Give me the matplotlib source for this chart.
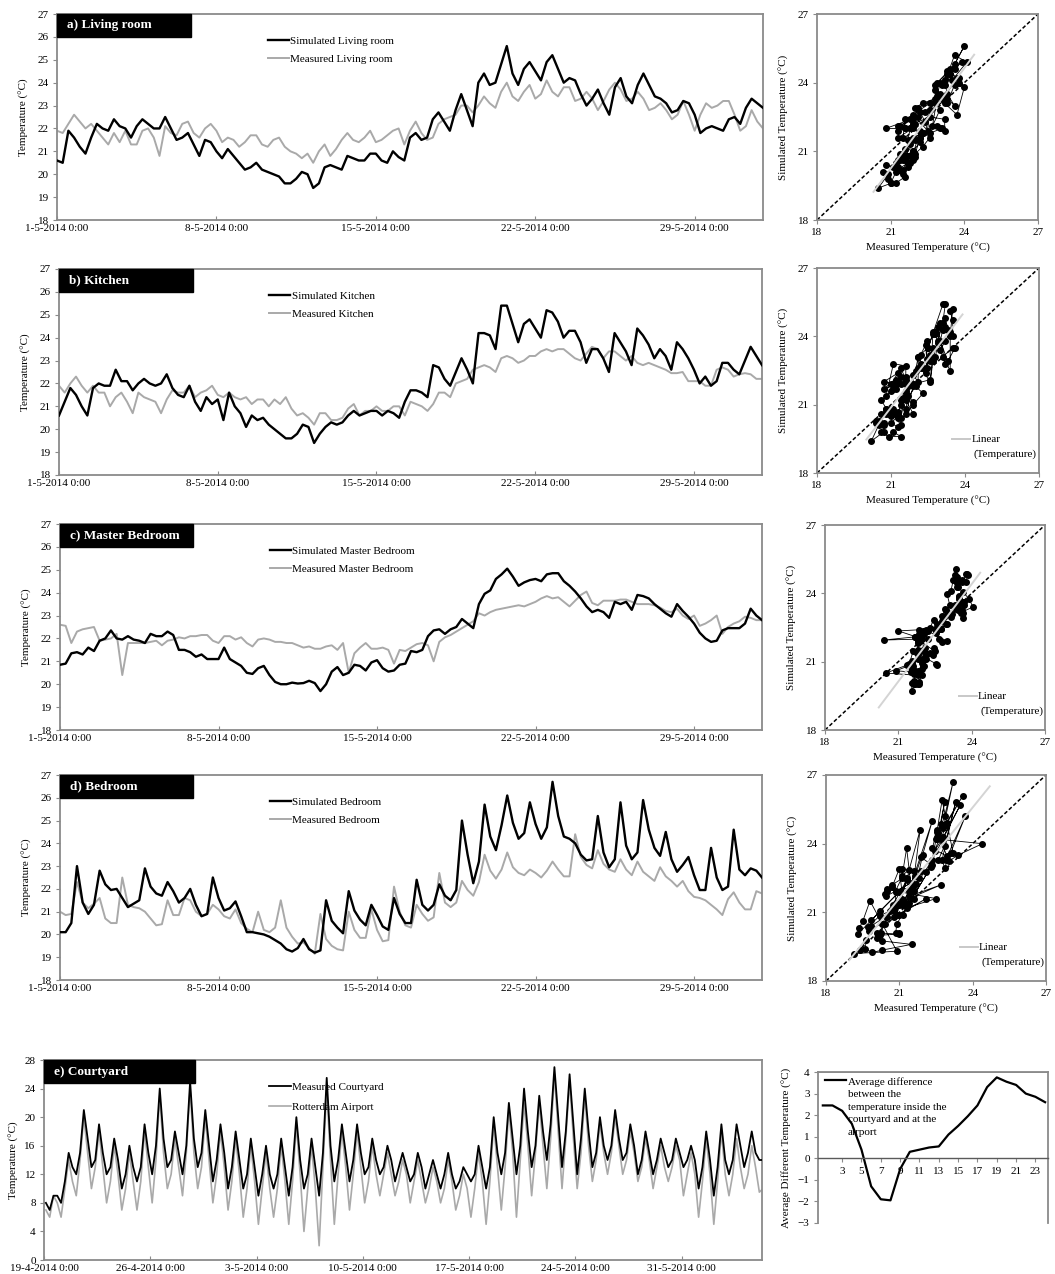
import numpy as np
import matplotlib.pyplot as plt
from matplotlib.patches import Rectangle

plt.rcParams['font.family'] = ['Liberation Serif', 'DejaVu Serif']

# 6-hourly readings (0:00, 6:00, 12:00, 18:00) from 1-5-2014 0:00 to 1-6-2014 0:00
sim_living = [
    20.6, 20.5, 21.9, 21.6, 21.2, 20.9, 21.6, 22.2, 22.0, 21.9, 22.4, 22.1,
    22.0, 21.6, 22.1, 22.4, 22.2, 22.0, 22.0, 22.5, 22.0, 21.5, 21.6, 21.8,
    21.3, 20.8, 21.5, 21.4, 21.0, 20.7, 21.1, 20.8, 20.5, 20.2, 20.3, 20.5,
    20.2, 20.1, 20.0, 19.9, 19.6, 19.6, 19.8, 20.1, 20.0, 19.4, 19.6, 20.3,
    20.4, 20.3, 20.2, 20.8, 20.7, 20.6, 20.6, 20.9, 20.9, 20.6, 20.5, 21.0,
    20.75, 20.6, 21.6, 21.8, 21.5, 21.6, 22.4, 22.7, 22.3, 21.9, 22.8, 23.5,
    22.8, 22.1, 24.0, 24.4, 23.9, 24.0, 24.8, 25.6, 24.4, 23.9, 24.6, 24.9,
    24.5, 24.1, 24.9, 25.2, 24.6, 24.0, 24.2, 24.1, 23.5, 23.0, 23.3, 23.7,
    23.1, 22.6, 23.8, 24.2, 23.4, 23.1, 23.9, 24.4, 23.9, 23.4, 23.3, 23.1,
    22.7, 22.8, 23.2, 23.1, 22.6, 21.8, 22.0, 22.1, 22.0, 21.9, 22.4, 22.5,
    22.2, 22.9, 23.3, 23.1, 22.9]
meas_living = [
    21.9, 21.8, 22.2, 22.6, 22.3, 22.0, 22.2, 21.9, 21.6, 21.3, 21.8, 21.4,
    21.9, 21.3, 21.3, 21.9, 22.0, 21.6, 20.8, 22.1, 21.8, 21.7, 22.2, 22.3,
    21.8, 21.6, 22.0, 22.2, 21.9, 21.4, 21.6, 21.5, 21.2, 21.4, 21.7, 21.7,
    21.3, 21.2, 21.5, 21.6, 21.2, 21.0, 20.9, 20.7, 20.9, 20.5, 21.0, 21.3,
    20.8, 21.1, 21.5, 21.8, 21.5, 21.4, 21.6, 21.9, 21.4, 21.5, 21.7, 21.9,
    22.0, 21.3, 21.9, 22.3, 21.8, 21.5, 21.6, 22.2, 22.4, 22.5, 22.6, 23.0,
    23.0, 22.7, 23.0, 23.4, 23.1, 22.9, 23.6, 24.0, 23.4, 23.2, 23.6, 23.9,
    23.3, 23.5, 24.1, 23.6, 23.4, 23.8, 23.8, 23.2, 23.3, 23.6, 23.3, 22.8,
    23.2, 23.7, 24.0, 23.7, 23.2, 23.3, 23.6, 23.3, 22.8, 22.9, 23.1, 22.8,
    22.4, 22.6, 23.2, 22.6, 21.9, 22.6, 23.1, 22.9, 23.0, 23.2, 23.2, 22.6,
    21.9, 22.1, 22.8, 22.3, 22.0]

sim_kitchen = [
    20.6, 21.2, 21.8, 21.5, 21.0, 20.6, 21.8, 22.0, 21.9, 21.9, 22.6, 22.1,
    22.1, 21.7, 22.0, 22.2, 22.0, 21.9, 22.0, 22.4, 21.8, 21.5, 21.4, 21.9,
    21.2, 20.8, 21.4, 21.1, 21.3, 20.4, 21.6, 21.0, 20.7, 20.1, 20.6, 20.4,
    20.5, 20.2, 20.0, 19.8, 19.6, 19.6, 19.8, 20.2, 20.1, 19.4, 19.8, 20.1,
    20.3, 20.2, 20.3, 20.6, 20.8, 20.6, 20.7, 20.8, 20.8, 20.6, 20.8, 20.7,
    20.5, 21.2, 21.7, 21.7, 21.6, 21.4, 22.8, 22.7, 22.2, 21.9, 22.5, 23.1,
    22.6, 22.0, 24.2, 24.2, 24.1, 23.5, 25.4, 25.4, 24.6, 23.8, 24.6, 24.8,
    24.4, 24.0, 25.2, 25.1, 24.7, 24.0, 24.3, 24.3, 23.8, 22.9, 23.5, 23.5,
    23.1, 22.5, 24.2, 23.8, 23.4, 22.8, 24.4, 24.1, 23.7, 23.1, 23.5, 23.2,
    22.6, 23.8, 23.5, 23.1, 22.6, 22.0, 22.3, 21.9, 22.1, 22.9, 22.9, 22.6,
    22.4, 23.0, 23.6, 23.2, 22.8]
meas_kitchen = [
    21.9, 21.6, 22.0, 22.3, 21.9, 21.6, 21.9, 21.6, 21.6, 21.0, 21.4, 21.6,
    21.2, 20.7, 21.6, 21.4, 21.3, 21.2, 20.7, 21.3, 21.7, 21.6, 21.6, 21.9,
    21.4, 21.6, 21.7, 21.9, 21.5, 21.4, 21.6, 21.4, 21.3, 21.4, 21.1, 21.3,
    21.3, 21.0, 21.3, 21.1, 21.4, 20.9, 20.6, 20.7, 20.5, 20.2, 20.7, 20.7,
    20.4, 20.4, 20.5, 20.9, 21.1, 20.6, 20.8, 20.8, 21.0, 20.8, 20.8, 21.0,
    21.0, 20.6, 21.2, 21.1, 21.0, 20.8, 21.1, 21.6, 21.6, 21.4, 22.0, 22.1,
    22.2, 22.6, 22.7, 22.8, 22.7, 22.5, 23.1, 23.2, 23.1, 22.9, 23.0, 23.2,
    23.2, 23.4, 23.5, 23.4, 23.5, 23.5, 23.3, 23.1, 23.0, 23.3, 23.6, 23.5,
    23.1, 23.4, 23.4, 23.2, 23.0, 23.2, 22.9, 22.8, 22.9, 22.8, 22.7, 22.6,
    22.45, 22.45, 22.5, 22.1, 22.1, 22.1, 21.9, 21.9, 22.6, 22.7, 22.6, 22.3,
    22.4, 22.45, 22.4, 22.2, 22.2]

sim_master = [
    20.85, 20.9, 21.35, 21.4, 21.3, 21.6, 21.45, 21.9, 22.0, 22.35, 22.0, 21.95,
    22.1, 21.95, 21.9, 21.8, 22.2, 22.1, 22.1, 22.3, 22.15, 21.5, 21.5, 21.4,
    21.2, 21.3, 21.1, 21.1, 21.1, 21.6, 21.1, 20.95, 20.8, 20.5, 20.45, 20.7,
    20.8, 20.4, 20.1, 20.0, 20.0, 20.07, 20.03, 20.05, 20.15, 20.05, 19.7, 20.0,
    20.55, 20.75, 20.4, 20.5, 20.85, 20.8, 20.6, 20.95, 21.05, 20.7, 20.55, 20.6,
    20.85, 20.9, 21.45, 21.4, 21.5, 22.1, 22.35, 22.4, 22.2, 22.4, 22.5, 22.85,
    22.65, 22.45, 23.5, 23.95, 24.1, 24.6, 24.8, 25.05, 24.7, 24.3, 24.45, 24.55,
    24.6, 24.5, 24.8, 24.85, 24.85, 24.5, 24.3, 24.05, 23.75, 23.4, 23.15, 23.25,
    23.15, 22.9, 23.6, 23.5, 23.6, 23.25, 23.9, 23.85, 23.75, 23.5, 23.3, 23.1,
    22.95, 23.5, 23.2, 22.95, 22.65, 22.25, 22.0, 21.85, 21.9, 22.35, 22.45, 22.45,
    22.45, 22.65, 23.3, 23.0, 22.8]
meas_master = [
    22.6, 22.55, 21.8, 22.3, 22.4, 22.45, 22.5, 21.9, 21.95, 22.0, 22.2, 20.4,
    21.8, 21.8, 21.8, 21.8, 21.85, 21.9, 21.7, 21.9, 21.95, 22.05, 22.0, 22.1,
    22.1, 22.15, 22.15, 21.9, 21.8, 22.1, 22.1, 21.95, 22.05, 21.8, 21.65, 21.95,
    22.0, 21.95, 21.85, 21.85, 21.8, 21.8, 21.7, 21.6, 21.65, 21.55, 21.55, 21.65,
    21.7, 21.5, 21.8, 20.5, 21.35, 21.6, 21.8, 21.55, 21.55, 21.6, 21.5, 20.9,
    21.5, 21.45, 21.6, 21.75, 21.8, 21.7, 21.0, 21.85, 22.05, 22.15, 22.3, 22.45,
    22.6, 22.75, 23.1, 23.0, 23.15, 23.25, 23.3, 23.35, 23.4, 23.45, 23.4, 23.5,
    23.6, 23.75, 23.85, 23.75, 23.8, 23.6, 23.4, 23.65, 23.9, 24.05, 23.55, 23.45,
    23.65, 23.65, 23.65, 23.7, 23.7, 23.6, 23.5, 23.5, 23.5, 23.45, 23.35, 23.2,
    23.15, 23.3, 23.0, 22.85, 23.0, 22.55, 22.65, 22.8, 23.0, 22.2, 22.5, 22.65,
    22.75, 22.95, 22.9, 22.8, 22.8]

sim_bedroom = [
    20.1, 20.1, 20.5, 23.0, 21.4, 20.9, 21.3, 22.8, 22.2, 21.95, 22.0, 21.6,
    21.2, 21.35, 21.5, 22.9, 22.1, 21.8, 21.7, 22.3, 21.9, 21.4, 21.6, 22.0,
    21.3, 20.8, 20.9, 22.5, 21.6, 21.05, 21.15, 21.45, 20.8, 20.1, 20.1, 20.05,
    20.0, 19.9, 19.75, 19.6, 19.35, 19.25, 19.4, 19.8, 19.35, 19.2, 19.3, 21.5,
    20.6, 20.3, 20.05, 21.9, 21.05, 20.65, 20.4, 21.3, 20.85, 20.35, 20.2, 21.6,
    20.9, 20.5, 20.5, 22.4, 21.3, 21.05, 21.3, 22.2, 21.7, 21.5, 21.95, 25.0,
    23.5, 22.25, 23.2, 25.7, 24.3, 23.7, 24.8, 26.1, 24.9, 24.2, 24.45, 25.8,
    24.85, 24.2, 24.7, 26.7, 25.2, 24.3, 24.2, 24.0, 23.5, 23.25, 23.3, 25.2,
    23.6, 22.95, 23.3, 25.8, 23.9, 23.3, 23.6, 25.9, 24.6, 23.8, 23.45, 24.5,
    23.3, 22.75, 23.05, 23.4, 22.6, 21.95, 21.95, 23.8, 22.5, 21.95, 22.1, 24.6,
    22.85, 22.6, 22.9, 22.8, 22.5]
meas_bedroom = [
    21.0, 20.85, 20.9, 22.3, 21.4, 21.15, 21.35, 21.6, 20.7, 20.5, 20.5, 22.5,
    21.3, 21.2, 21.15, 21.0, 20.7, 20.4, 20.45, 21.5, 20.85, 20.85, 21.6, 21.5,
    21.0, 20.8, 20.9, 21.3, 21.1, 20.8, 20.7, 21.1, 20.5, 20.25, 20.1, 21.0,
    20.2, 20.1, 20.3, 21.5, 20.3, 19.9, 19.6, 19.65, 19.4, 19.15, 20.9, 19.8,
    19.5, 19.35, 19.3, 21.0, 20.2, 19.85, 19.85, 21.1, 20.2, 19.7, 19.75, 22.1,
    21.0, 20.4, 20.3, 21.3, 20.9, 20.6, 20.75, 22.7, 21.4, 21.2, 21.4, 22.35,
    21.95, 21.7, 22.3, 23.5, 22.8, 22.45, 22.85, 23.6, 22.95, 22.7, 22.6, 22.85,
    22.7, 22.5, 22.8, 23.2, 22.85, 22.55, 22.55, 24.4, 23.4, 23.05, 22.9, 23.7,
    23.1, 22.85, 22.75, 23.3, 22.85, 22.6, 23.2, 22.75, 22.55, 22.35, 22.95, 22.55,
    22.35, 22.1, 22.35, 21.9, 21.65, 21.6, 21.5, 21.3, 21.1, 20.85, 21.55, 21.85,
    21.4, 21.1, 21.1, 21.9, 21.8]

# courtyard vs. airport, 6-hourly readings (3:00, 9:00, 15:00, 21:00) from 19-4-2014
court_measured = [
    8, 7, 9, 9, 8, 11, 15, 13, 12, 15, 21, 17, 13, 14, 19, 15,
    12, 13, 17, 14, 10, 12, 16, 13, 11, 13, 19, 15, 12, 16, 24, 17,
    13, 14, 18, 15, 12, 16, 25, 17, 13, 15, 21, 16, 11, 14, 19, 15,
    10, 13, 18, 14, 10, 12, 17, 13, 9, 12, 16, 12, 10, 12, 17, 13,
    9, 13, 20, 14, 10, 12, 17, 13, 9, 15, 25.5, 16, 11, 14, 19, 15,
    11, 14, 19, 15, 12, 13, 17, 14, 12, 13, 16, 14, 11, 13, 15, 13,
    11, 12, 15, 13, 10, 12, 14, 12, 10, 12, 15, 12, 10, 11, 13, 12,
    11, 12, 16, 13, 10, 13, 20, 15, 12, 15, 22, 17, 12, 16, 24, 18,
    13, 16, 23, 18, 14, 19, 27, 20, 13, 18, 26, 19, 12, 17, 24, 18,
    13, 15, 20, 16, 14, 16, 21, 17, 14, 15, 19, 16, 12, 14, 18, 15,
    12, 14, 17, 15, 13, 14, 17, 15, 13, 14, 16, 14, 10, 13, 18, 14,
    9, 13, 19, 14, 12, 14, 19, 16, 13, 15, 18, 15, 14, 14]
airport = [
    7, 6, 9, 8, 6, 10, 14, 11, 9, 14, 20, 15, 10, 13, 18, 13,
    8, 11, 16, 12, 7, 10, 15, 11, 7, 11, 18, 13, 8, 14, 23, 15,
    10, 12, 17, 13, 9, 15, 24, 15, 10, 13, 20, 14, 8, 12, 18, 13,
    7, 11, 17, 12, 6, 10, 16, 11, 5, 10, 15, 10, 6, 10, 16, 11,
    5, 11, 19, 12, 4, 10, 16, 10, 2, 13, 24, 14, 5, 12, 18, 13,
    7, 12, 18, 13, 8, 11, 16, 12, 9, 12, 15, 12, 9, 11, 14, 12,
    8, 11, 14, 11, 8, 10, 13, 11, 8, 10, 14, 11, 7, 9, 12, 10,
    6, 10, 15, 11, 5, 11, 19, 13, 7, 13, 21, 15, 6, 14, 22, 16,
    9, 15, 22, 16, 10, 17, 26, 18, 10, 17, 25, 17, 10, 15, 23, 16,
    11, 14, 19, 15, 12, 15, 20, 16, 12, 14, 18, 15, 11, 13, 17, 14,
    10, 13, 16, 13, 11, 13, 16, 14, 9, 12, 15, 12, 6, 11, 17, 12,
    5, 11, 18, 12, 9, 12, 17, 13, 10, 12, 16, 13, 9.5, 10]

hours = list(range(1, 25))
avg_diff = [2.45, 2.45, 2.2, 1.6, 0.4, -1.3, -1.9, -1.95, -0.5, 0.3, 0.4, 0.5,
            0.55, 1.1, 1.5, 1.95, 2.45, 3.3, 3.75, 3.55, 3.4, 3.0, 2.85, 2.6]

may_labels = ['1-5-2014 0:00', '8-5-2014 0:00', '15-5-2014 0:00',
              '22-5-2014 0:00', '29-5-2014 0:00']
court_labels = ['19-4-2014 0:00', '26-4-2014 0:00', '3-5-2014 0:00',
                '10-5-2014 0:00', '17-5-2014 0:00', '24-5-2014 0:00',
                '31-5-2014 0:00']

W, H = 1055, 1274
fig = plt.figure(figsize=(W / 100, H / 100), dpi=100)
GREY = '#a9a9a9'
SPINE = '#8a8a8a'
FS = 8


def box(l, t, r, b):
    return fig.add_axes([l / W, 1 - b / H, (r - l) / W, (b - t) / H])


def frame(ax):
    for s in ax.spines.values():
        s.set_color(SPINE)
        s.set_linewidth(1.3)
    ax.tick_params(labelsize=FS, length=3, color=SPINE, pad=3)


def tag(ax, text, w=0.19, h=1 / 9):
    ax.add_patch(Rectangle((0, 1 - h), w, h, transform=ax.transAxes,
                           color='black', zorder=5, clip_on=False))
    ax.text(0.014, 1 - h / 2, text, transform=ax.transAxes, color='white',
            fontsize=9.5, fontweight='bold', va='center', zorder=6)


def series_panel(rect, sim, meas, title, names):
    ax = box(*rect)
    t = np.arange(len(sim)) * 0.25
    ax.plot(t, sim, color='black', lw=1.7, label=names[0], zorder=3)
    ax.plot(t, meas, color=GREY, lw=1.4, label=names[1], zorder=2)
    ax.set_xlim(0, 31)
    ax.set_ylim(18, 27)
    ax.set_yticks(range(18, 28))
    ax.set_xticks([0, 7, 14, 21, 28])
    ax.set_xticklabels(may_labels)
    ax.set_ylabel('Temperature (°C)', fontsize=FS, labelpad=6)
    frame(ax)
    ax.tick_params(axis='x', direction='in')
    ax.legend(loc='upper left', bbox_to_anchor=(0.285, 0.94), frameon=False,
              fontsize=FS, handlelength=1.9, labelspacing=0.75,
              handletextpad=0.1)
    tag(ax, title)
    return ax


def scatter_panel(rect, sim, meas, trend_label=True):
    ax = box(*rect)
    sim = np.asarray(sim)
    meas = np.asarray(meas)
    ax.plot([18, 27], [18, 27], color='black', lw=1.1, ls=(0, (2.5, 1.5)))
    ax.plot(meas, sim, color='black', lw=0.6, marker='o', ms=4.0, zorder=3)
    k, c = np.polyfit(meas, sim, 1)
    xs = np.array([meas.min() - 0.2, meas.max() + 0.3])
    ax.plot(xs, k * xs + c, color='#d4d4d4', lw=1.4, zorder=4)
    ax.set_xlim(18, 27)
    ax.set_ylim(18, 27)
    ax.set_xticks([18, 21, 24, 27])
    ax.set_yticks([18, 21, 24, 27])
    ax.set_xlabel('Measured Temperature (°C)', fontsize=FS, labelpad=4)
    ax.set_ylabel('Simulated Temperature (°C)', fontsize=FS, labelpad=6)
    frame(ax)
    if trend_label:
        ax.plot([0.61, 0.69], [0.165, 0.165], transform=ax.transAxes,
                color='#c8c8c8', lw=1.4)
        ax.text(0.695, 0.165, 'Linear', transform=ax.transAxes,
                fontsize=FS, va='center')
        ax.text(0.705, 0.09, '(Temperature)', transform=ax.transAxes,
                fontsize=FS, va='center')
    return ax


series_panel((57, 14, 763, 220), sim_living, meas_living, 'a) Living room',
             ['Simulated Living room', 'Measured Living room'])
scatter_panel((817, 14, 1038, 220), sim_living, meas_living, False)

series_panel((59, 269, 762, 475), sim_kitchen, meas_kitchen, 'b) Kitchen',
             ['Simulated Kitchen', 'Measured Kitchen'])
scatter_panel((817, 268, 1039, 473), sim_kitchen, meas_kitchen)

series_panel((60, 524, 762, 730), sim_master, meas_master, 'c) Master Bedroom',
             ['Simulated Master Bedroom', 'Measured Master Bedroom'])
scatter_panel((825, 525, 1045, 730), sim_master, meas_master)

series_panel((60, 775, 762, 980), sim_bedroom, meas_bedroom, 'd) Bedroom',
             ['Simulated Bedroom', 'Measured Bedroom'])
scatter_panel((826, 775, 1046, 981), sim_bedroom, meas_bedroom)

# e) courtyard against the airport station
ax = box(44, 1060, 762, 1260)
tc = np.arange(len(court_measured)) * 0.25 + 3 / 24
ax.plot(tc, court_measured, color='black', lw=1.3, label='Measured Courtyard',
        zorder=3)
ax.plot(tc, airport, color=GREY, lw=1.2, label='Rotterdam Airport', zorder=2)
ax.set_xlim(0, 47.3)
ax.set_ylim(0, 28)
ax.set_yticks(range(0, 29, 4))
ax.set_xticks(range(0, 43, 7))
ax.set_xticklabels(court_labels)
ax.set_ylabel('Temperature (°C)', fontsize=FS, labelpad=4)
frame(ax)
ax.tick_params(axis='x', direction='in')
ax.legend(loc='upper left', bbox_to_anchor=(0.3, 0.94), frameon=False,
          fontsize=FS, handlelength=1.9, labelspacing=0.9, handletextpad=0.1)
tag(ax, 'e) Courtyard', w=0.21, h=0.115)

# hourly mean difference courtyard - airport
ax = box(818, 1072, 1048, 1223)
ax.plot(hours, avg_diff, color='black', lw=1.6)
ax.set_xlim(0.5, 24.3)
ax.set_ylim(-3, 4)
ax.set_yticks(range(-3, 5))
ax.set_xticks(range(3, 24, 2))
ax.spines['bottom'].set_position(('data', 0))
ax.set_ylabel('Average Different Temperature (°C)', fontsize=FS, labelpad=4)
frame(ax)
ax.spines['bottom'].set_color('#5a5a5a')
ax.spines['bottom'].set_linewidth(1.0)
ax.plot([0.03, 0.12], [0.95, 0.95], transform=ax.transAxes, color='black',
        lw=1.6)
ax.text(0.13, 0.965, 'Average difference\nbetween the\ntemperature inside the\n'
        'courtyard and at the\nairport', transform=ax.transAxes, fontsize=FS,
        va='top', linespacing=1.5)
ax.plot([0, 1], [1, 1], transform=ax.transAxes, color=SPINE, lw=1.3)

fig.savefig('out.png', dpi=100)
